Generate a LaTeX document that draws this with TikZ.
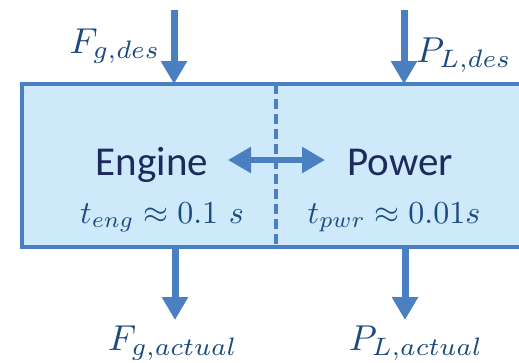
\documentclass[tikz,border=0pt]{standalone}
\usepackage{fontspec}
\usepackage{graphicx}
\newfontfamily\calib{Carlito}
\usetikzlibrary{arrows.meta}
\definecolor{ablue}{HTML}{4A80C2}
\definecolor{bfill}{HTML}{CDE9FA}
\definecolor{navy}{HTML}{1F2A5C}
\definecolor{mblue}{HTML}{1C4A7E}
\newcommand{\tlab}[1]{\scalebox{3.2}{$#1$}}
\newcommand{\slab}[1]{\scalebox{3.6}{$#1$}}
\tikzset{
  boxline/.style={draw=ablue, line width=4pt},
  vflow/.style={draw=ablue, line width=7pt, -{Triangle[width=25pt,length=23pt]}},
  hflow/.style={draw=ablue, line width=5.5pt, {Triangle[width=25pt,length=23pt]}-{Triangle[width=25pt,length=23pt]}},
  blocklabel/.style={font=\calib\fontsize{41}{48}\selectfont, text=navy, inner sep=0pt},
  timelabel/.style={text=mblue, inner sep=0pt},
  siglabel/.style={text=mblue, inner sep=0pt}
}
\begin{document}
\begin{tikzpicture}[x=1pt,y=-1pt]
\useasboundingbox (0,0) rectangle (519,362);
\clip (0,0) rectangle (519,362);
% box
\fill[bfill] (22,84) rectangle (545,247);
\draw[boxline, line join=miter] (545,84) -- (22,84) -- (22,247) -- (545,247);
\draw[boxline, dash pattern=on 10pt off 5pt] (276,84) -- (276,247);
% block texts
\node[blocklabel, anchor=base] (engT) at (152,175) {Engine};
\node[blocklabel, anchor=base] (pwrT) at (400,175) {Power};
\node[timelabel, anchor=base] (teng) at (162,223) {\tlab{t_{eng}\approx 0.1\ s}};
\node[timelabel, anchor=base] (tpwr) at (394,223) {\tlab{t_{pwr}\approx 0.01s}};
% signal labels
\node[siglabel, anchor=base] (fgd) at (115,53) {\slab{F_{g,des}}};
\node[siglabel, anchor=base west] (pld) at (416,62) {\slab{P_{L,des}}};
\node[siglabel, anchor=base] (fga) at (173,350) {\slab{F_{g,actual}}};
\node[siglabel, anchor=base] (pla) at (416,350) {\slab{P_{L,actual}}};
% arrow coordinates
\coordinate (inF) at (174,10);
\coordinate (inFend) at (174,84);
\coordinate (inP) at (404,10);
\coordinate (inPend) at (404,84);
\coordinate (outF) at (175,247);
\coordinate (outFend) at (175,320);
\coordinate (outP) at (405,247);
\coordinate (outPend) at (405,320);
\coordinate (dL) at (228,160);
\coordinate (dR) at (325,160);
\draw[vflow] (inF) -- (inFend);
\draw[vflow] (inP) -- (inPend);
\draw[vflow] (outF) -- (outFend);
\draw[vflow] (outP) -- (outPend);
\draw[hflow] (dL) -- (dR);
\end{tikzpicture}
\end{document}
